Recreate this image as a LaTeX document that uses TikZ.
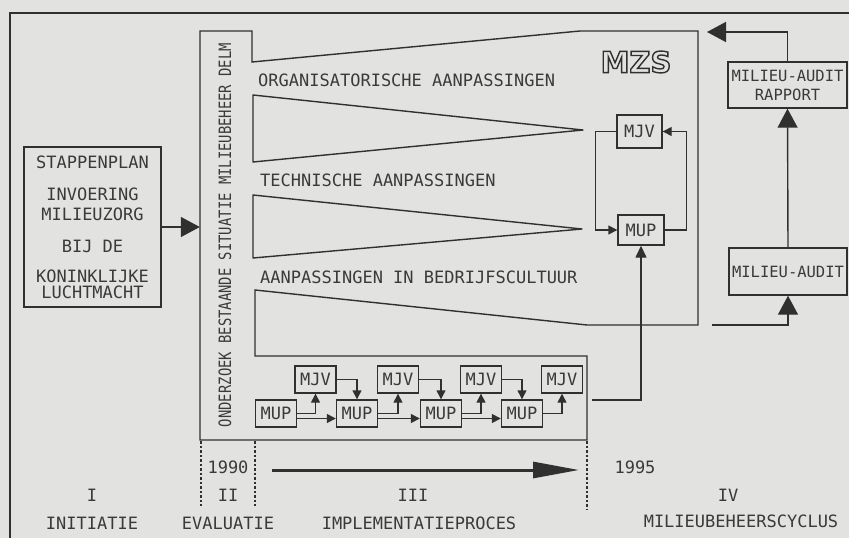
\documentclass[tikz,border=0pt]{standalone}
\usepackage{fontspec}
\usepackage{graphicx}
\setmonofont{DejaVu Sans Mono}
\newfontfamily\mzsfamily{DejaVu Sans}
\usetikzlibrary{arrows.meta}
\definecolor{bgc}{HTML}{E2E2E0}
\definecolor{ink}{HTML}{303030}
\definecolor{txt}{HTML}{3A3A3A}
\newcommand{\hollowtext}[1]{\special{pdf:literal direct 1 Tr 1.4 w}#1\special{pdf:literal direct 0 Tr}}
\begin{document}
\begin{tikzpicture}[x=1pt,y=-1pt,
  lbl/.style={font=\ttfamily\fontsize{17}{20}\selectfont, text=txt, inner sep=0pt},
  conn/.style={draw=ink, line width=1.4pt},
  boxs/.style={draw=ink, line width=1.4pt, inner sep=0pt, font=\ttfamily\fontsize{17}{20}\selectfont, text=txt},
  rowbox/.style={boxs, minimum width=41pt, minimum height=27pt},
  bigtip/.style={-{Triangle[length=19pt,width=20pt]}},
  smalltip/.style={-{Triangle[length=9pt,width=9pt]}},
  midtip/.style={-{Triangle[length=12pt,width=11pt]}},
  dotline/.style={draw=ink, line width=1.5pt, dash pattern=on 2.5pt off 2pt},
  mzsstyle/.style={font=\mzsfamily\bfseries\fontsize{29}{30}\selectfont, inner sep=0pt, text=ink}
]
\fill[bgc] (0,0) rectangle (849,538);
\useasboundingbox (0,0) rectangle (849,538);

% outer frame
\draw[conn] (10,538) -- (10,13) -- (849,13);

% main outline: column, bands, MZS box, implementation box
\draw[conn, line join=miter] (200,31) -- (252,31) -- (252,62) -- (580,31) -- (698,31)
  -- (698,325) -- (587,325) -- (255,290) -- (255,356) -- (587,356) -- (587,440)
  -- (200,440) -- cycle;
\draw[conn, line join=round] (253,95) -- (583,130) -- (253,162) -- cycle;
\draw[conn, line join=round] (253,195) -- (582,229) -- (253,258) -- cycle;

% band labels
\node[lbl, anchor=west] (org) at (258,80) {ORGANISATORISCHE AANPASSINGEN};
\node[lbl, anchor=west] (tech) at (260,180) {TECHNISCHE AANPASSINGEN};
\node[lbl, anchor=west] (cult) at (260,277) {AANPASSINGEN IN BEDRIJFSCULTUUR};

% column
\node[inner sep=0pt, minimum width=52pt, minimum height=409pt] (col) at (226,235.5) {};
\node[lbl, rotate=90] (coltext) at (225,235) {\scalebox{0.816}[1]{ONDERZOEK BESTAANDE SITUATIE MILIEUBEHEER DELM}};

% stappenplan
\node[boxs, minimum width=137pt, minimum height=160pt, align=center] (stap) at (92.5,227)
  {STAPPENPLAN\\[12pt]INVOERING\\MILIEUZORG\\[12pt]BIJ DE\\[10pt]KONINKLIJKE\\[-4pt]LUCHTMACHT};
\draw[conn, bigtip] (stap.east) -- (stap.east -| col.west);

% MZS title (outlined letters)
\node[mzsstyle] (mzs) at (636,62) {\hollowtext{MZS}};

% MZS loop
\node[boxs, minimum width=45pt, minimum height=33pt] (mjvz) at (639.5,131.5) {MJV};
\node[boxs, minimum width=46pt, minimum height=30pt] (mupz) at (641,230) {MUP};
\draw[conn, smalltip] (mjvz.west) -- ++(-21,0) |- (mupz.west);
\draw[conn, smalltip] (mupz.east) -- ++(22,0) |- (mjvz.east);

% implementation row
\node[rowbox] (mup1) at (276,413.5) {MUP};
\node[rowbox] (mup2) at (357,413.5) {MUP};
\node[rowbox] (mup3) at (441,413.5) {MUP};
\node[rowbox] (mup4) at (522,413.5) {MUP};
\node[rowbox] (mjv1) at (315.5,379.5) {MJV};
\node[rowbox] (mjv2) at (398,379.5) {MJV};
\node[rowbox] (mjv3) at (481,379.5) {MJV};
\node[rowbox] (mjv4) at (562,379.5) {MJV};
\foreach \i/\j in {1/2,2/3,3/4}{
  \draw[conn, smalltip] (mup\i.east) -| (mjv\i.south);
  \draw[conn, smalltip] ([yshift=-5pt]mup\i.east) -- ([yshift=-5pt]mup\j.west);
  \draw[conn, smalltip] (mjv\i.east) -| (mup\j.north);
}
\draw[conn, smalltip] (mup4.east) -| (mjv4.south);

% link implementation -> MUP in MZS
\coordinate (implout) at (592,400);
\draw[conn, midtip] (implout) -| (mupz.south);

% audit cycle
\node[boxs, minimum width=119pt, minimum height=46pt, font=\ttfamily\fontsize{15.5}{19}\selectfont, align=center] (rapport) at (787.5,85) {MILIEU-AUDIT\\RAPPORT};
\node[boxs, minimum width=118pt, minimum height=47pt, font=\ttfamily\fontsize{15.5}{19}\selectfont] (audit) at (788,271.5) {MILIEU-AUDIT};
\coordinate (mzsin) at (707,32);
\coordinate (mzsout) at (712,325);
\draw[conn, bigtip] (rapport.north) |- (mzsin);
\draw[conn, bigtip] (audit.north) -- (rapport.south);
\draw[conn, bigtip] (mzsout) -| (audit.south);

% timeline
\coordinate (d1a) at (201,441); \coordinate (d1b) at (201,506);
\coordinate (d2a) at (255,441); \coordinate (d2b) at (255,506);
\coordinate (d3a) at (587,441); \coordinate (d3b) at (587,510);
\draw[dotline] (d1a) -- (d1b);
\draw[dotline] (d2a) -- (d2b);
\draw[dotline] (d3a) -- (d3b);
\coordinate (tl0) at (272,470);
\coordinate (tl1) at (579,470);
\draw[draw=ink, line width=3pt, -{Triangle[length=46pt,width=16pt]}] (tl0) -- (tl1);

\node[lbl] (y1990) at (228,467) {1990};
\node[lbl] (y1995) at (635,467) {1995};
\node[lbl] (p1) at (92,495) {I};
\node[lbl] (p2) at (228,495) {II};
\node[lbl] (p3) at (413,495) {III};
\node[lbl] (p4) at (728,495) {IV};
\node[lbl] (n1) at (92,523) {INITIATIE};
\node[lbl] (n2) at (228,523) {EVALUATIE};
\node[lbl] (n3) at (419,523) {IMPLEMENTATIEPROCES};
\node[lbl] (n4) at (741,521) {MILIEUBEHEERSCYCLUS};
\end{tikzpicture}
\end{document}
